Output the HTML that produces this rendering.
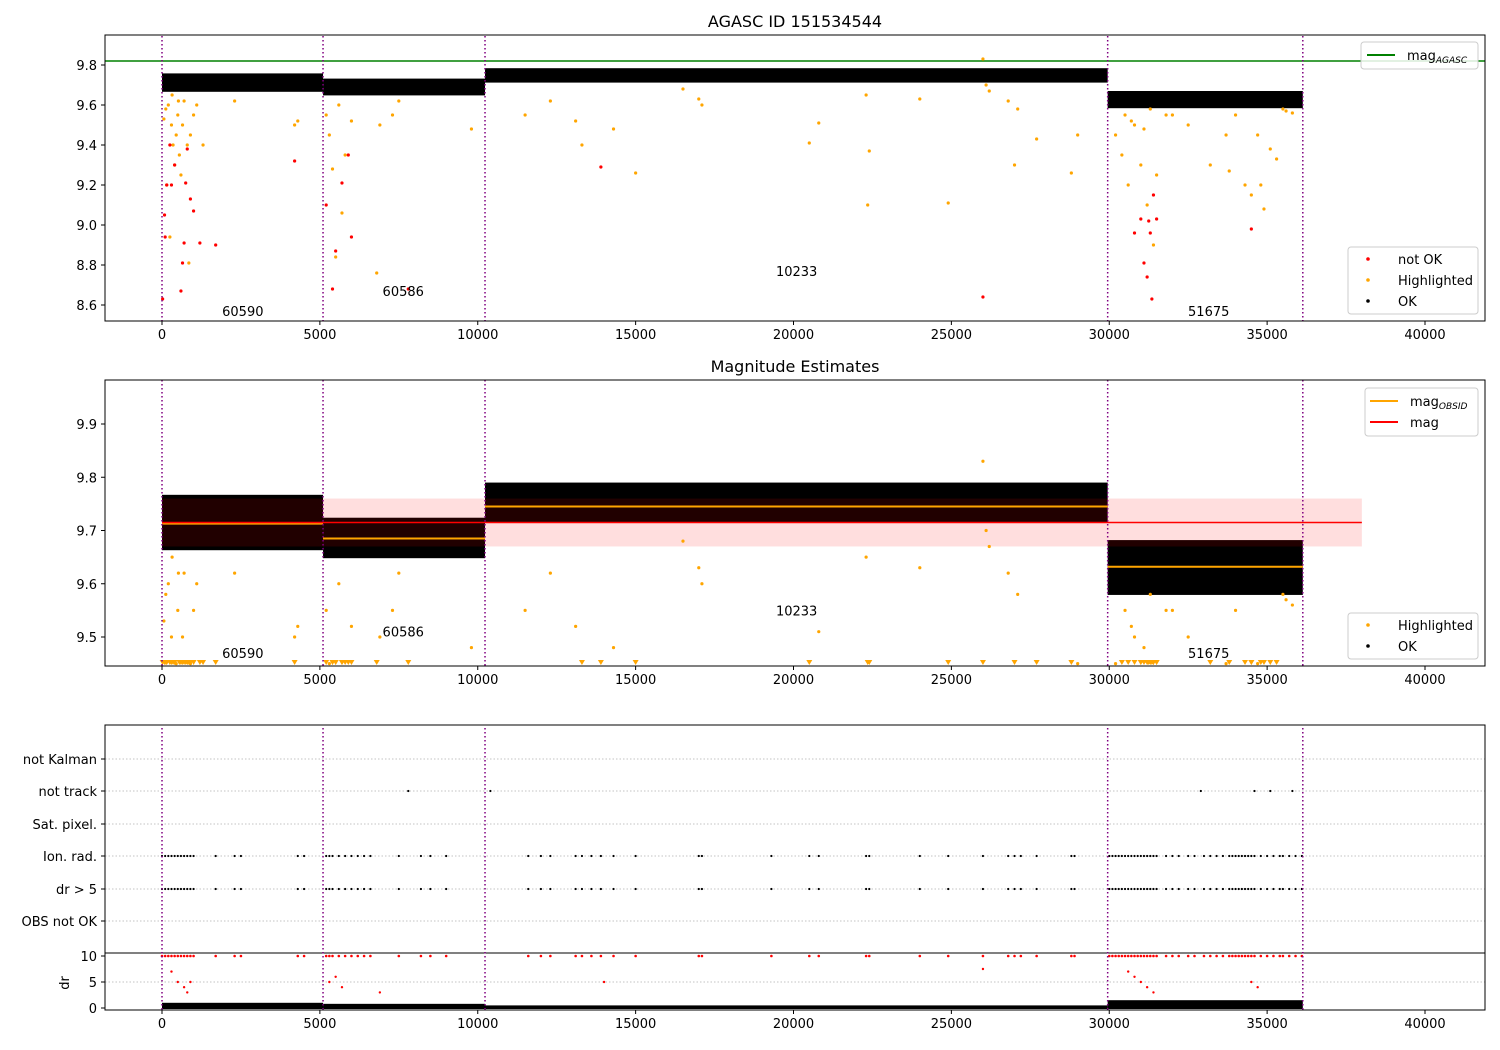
<!DOCTYPE html>
<html><head><meta charset="utf-8"><style>
body{margin:0;background:#fff}
svg{display:block;font-family:"DejaVu Sans","Liberation Sans",sans-serif}
</style></head><body>
<svg id="c" width="1500" height="1050" xmlns="http://www.w3.org/2000/svg">
<defs>
<clipPath id="cp1"><rect x="105" y="35" width="1380" height="286"/></clipPath>
<clipPath id="cp2"><rect x="105" y="380" width="1380" height="286"/></clipPath>
<clipPath id="cp3"><rect x="105" y="725" width="1380" height="285"/></clipPath>
</defs>
<rect width="1500" height="1050" fill="#fff"/>
<g id="g1" clip-path="url(#cp1)"></g>
<g id="g2" clip-path="url(#cp2)"></g>
<g id="g3" clip-path="url(#cp3)"></g>
<g id="ax"></g>
</svg>
<script>
// ---- data ----
const obsids=['60590','60586','10233','51675'];
const obsStart=[0,5100,10230,29950];
const obsEnd=[5100,10230,29950,36130];
const p1Center=[9.712,9.69,9.748,9.627];
const p1Half=[0.046,0.042,0.036,0.043];
const p2Lo=[9.663,9.648,9.716,9.579];
const p2Hi=[9.767,9.724,9.79,9.682];
const obsMean=[9.713,9.685,9.745,9.632];
const drTop=[1.0,0.8,0.5,1.5];
const magAgasc=9.82;
const magOverall=9.715;
const magBand=0.045;
const highlighted=[[200,9.6],[300,9.5],[350,9.4],[400,9.3],[450,9.45],[500,9.55],[550,9.35],[600,9.25],[650,9.5],[700,9.62],[800,9.4],[900,9.45],[1000,9.55],[150,9.2],[250,8.94],[850,8.81],[1300,9.4],[1100,9.6],[120,9.58],[60,9.53],[320,9.65],[520,9.62],[2300,9.62],[4200,9.5],[4300,9.52],[5200,9.55],[5300,9.45],[5400,9.28],[5500,8.84],[5700,9.06],[5800,9.35],[6000,9.52],[5600,9.6],[6800,8.76],[6900,9.5],[7300,9.55],[7500,9.62],[9800,9.48],[11500,9.55],[12300,9.62],[13100,9.52],[13300,9.40],[14300,9.48],[15000,9.26],[16500,9.68],[17000,9.63],[17100,9.6],[20500,9.41],[20800,9.51],[22300,9.65],[22400,9.37],[22350,9.1],[24000,9.63],[24900,9.11],[26100,9.7],[26000,9.83],[26200,9.67],[27000,9.3],[27100,9.58],[26800,9.62],[27700,9.43],[28800,9.26],[29000,9.45],[30200,9.45],[30400,9.35],[30600,9.2],[30800,9.5],[31000,9.3],[31200,9.1],[31400,8.9],[31500,9.25],[30500,9.55],[30700,9.52],[31100,9.48],[31300,9.58],[31800,9.55],[32000,9.55],[32500,9.5],[33200,9.3],[33800,9.27],[34300,9.2],[34500,9.15],[34800,9.2],[34900,9.08],[35100,9.38],[35300,9.33],[34000,9.55],[34700,9.45],[33700,9.45],[35600,9.57],[35800,9.56],[35500,9.58]];
const notOk=[[20,8.63],[80,9.05],[100,8.94],[150,9.2],[250,9.4],[300,9.2],[400,9.3],[600,8.67],[650,8.81],[700,8.91],[750,9.21],[800,9.38],[900,9.13],[1000,9.07],[1200,8.91],[1700,8.9],[4200,9.32],[5200,9.1],[5400,8.68],[5500,8.87],[5700,9.21],[5900,9.35],[6000,8.94],[7800,8.68],[13900,9.29],[26000,8.64],[30800,8.96],[31000,9.03],[31100,8.81],[31200,8.74],[31300,8.96],[31350,8.63],[31400,9.15],[31500,9.03],[31250,9.02],[34500,8.98]];
const flagTimes=[0,100,200,300,400,500,600,700,800,900,1000,1700,2300,2500,4300,4500,5200,5300,5400,5600,5800,6000,6200,6400,6600,7500,8200,8500,9000,11600,12000,12300,13100,13300,13600,13900,14300,15000,17000,17100,19300,20500,20800,22300,22400,24000,24900,26000,26800,27000,27200,27700,28800,28900,30000,30100,30200,30300,30400,30500,30600,30700,30800,30900,31000,31100,31200,31300,31400,31500,31800,32000,32200,32500,32700,33000,33200,33400,33600,33800,33900,34000,34100,34200,34300,34400,34500,34600,34800,35000,35200,35400,35500,35700,35900,36100];
const notTrack=[7800,10400,32900,34600,35100,35800];
const drRed=[[300,7],[500,5],[700,4],[800,3],[900,5],[5300,5],[5500,6],[5700,4],[6900,3],[30600,7],[30800,6],[31000,5],[31200,4],[31400,3],[34500,5],[34700,4],[26000,7.5],[14000,5]];
const catLabels=['not Kalman','not track','Sat. pixel.','Ion. rad.','dr > 5','OBS not OK'];
const catY=[759,791,824,856,889,921];
const xTicks=[0,5000,10000,15000,20000,25000,30000,35000,40000];
const y1Ticks=[9.8,9.6,9.4,9.2,9.0,8.8,8.6];
const y2Ticks=[9.9,9.8,9.7,9.6,9.5];
const drTicks=[10,5,0];
const labP1=[8.57,8.67,8.77,8.57];
const labP2=[9.47,9.51,9.55,9.47];
const labT=[2560,7640,20100,33150];
// ---- scales ----
const X=t=>162+t*1263/40000;
const Y1=m=>65+(9.8-m)*200;
const Y2=m=>424+(9.9-m)*532.5;
const YD=d=>1008-d*5.2;
const NS='http://www.w3.org/2000/svg';
function mk(p,tag,a,txt){const e=document.createElementNS(NS,tag);for(const k in a)e.setAttribute(k,a[k]);if(txt!==undefined)e.textContent=txt;p.appendChild(e);return e;}
const g1=document.getElementById('g1'),g2=document.getElementById('g2'),g3=document.getElementById('g3'),ax=document.getElementById('ax');
// panel 1
let e=mk(g1,'line',{x1:105,x2:1485,y1:Y1(magAgasc),y2:Y1(magAgasc),stroke:'green','stroke-width':1.5});


obsids.forEach((o,i)=>{
 e=mk(g1,'rect',{x:X(obsStart[i]),width:X(obsEnd[i])-X(obsStart[i]),y:Y1(p1Center[i]+p1Half[i]),height:p1Half[i]*2*200,fill:'#000'});
 
 
 e=mk(g2,'rect',{x:X(obsStart[i]),width:X(obsEnd[i])-X(obsStart[i]),y:Y2(p2Hi[i]),height:Y2(p2Lo[i])-Y2(p2Hi[i]),fill:'#000'});
 
 
});
highlighted.forEach(p=>{e=mk(g1,'circle',{cx:X(p[0]),cy:Y1(p[1]),r:1.6,fill:'orange'});
 
 });
notOk.forEach(p=>{e=mk(g1,'circle',{cx:X(p[0]),cy:Y1(p[1]),r:1.6,fill:'red'});
 
 });
// panel 2
e=mk(g2,'rect',{x:X(0),width:X(38000)-X(0),y:Y2(magOverall+magBand),height:Y2(magOverall-magBand)-Y2(magOverall+magBand),fill:'red','fill-opacity':0.13});


obsids.forEach((o,i)=>{
 e=mk(g2,'line',{x1:X(obsStart[i]),x2:X(obsEnd[i]),y1:Y2(obsMean[i]),y2:Y2(obsMean[i]),stroke:'orange','stroke-width':2});
 
 
});
e=mk(g2,'line',{x1:X(0),x2:X(38000),y1:Y2(magOverall),y2:Y2(magOverall),stroke:'red','stroke-width':1.5});


highlighted.concat(notOk).forEach(p=>{
 if(p[1]<9.4455){const x=X(p[0]),y=663;
  e=mk(g2,'path',{d:`M${x-3},${y-3}L${x+3},${y-3}L${x},${y+2}Z`,fill:'orange'});
  
  }
 else{e=mk(g2,'circle',{cx:X(p[0]),cy:Y2(p[1]),r:1.6,fill:'orange'});
  
  }
});
obsids.forEach((o,i)=>{
 e=mk(g1,'text',{x:X(labT[i]),y:Y1(labP1[i])+5,'font-size':13,'text-anchor':'middle'},o);
 
 
 e=mk(g2,'text',{x:X(labT[i]),y:Y2(labP2[i])+5,'font-size':13,'text-anchor':'middle'},o);
 
 
});
// panel 3
catY.forEach(y=>mk(g3,'line',{x1:105,x2:1485,y1:y,y2:y,stroke:'#b0b0b0','stroke-dasharray':'1.5,2','stroke-width':0.8}));
[5].forEach(d=>mk(g3,'line',{x1:105,x2:1485,y1:YD(d),y2:YD(d),stroke:'#b0b0b0','stroke-dasharray':'1.5,2','stroke-width':0.8}));
mk(g3,'line',{x1:105,x2:1485,y1:953,y2:953,stroke:'#000','stroke-width':1});
flagTimes.forEach(t=>{
 [856,889].forEach(y=>{e=mk(g3,'circle',{cx:X(t),cy:y,r:1.1,fill:'#000'});
  
  });
 e=mk(g3,'circle',{cx:X(t),cy:YD(10),r:1.3,fill:'red'});
 
 
});
notTrack.forEach(t=>{e=mk(g3,'circle',{cx:X(t),cy:791,r:1.1,fill:'#000'});
 
 });
obsids.forEach((o,i)=>{
 e=mk(g3,'rect',{x:X(obsStart[i]),width:X(obsEnd[i])-X(obsStart[i]),y:YD(drTop[i]),height:YD(0)-YD(drTop[i])+1,fill:'#000'});
 
 
});
drRed.forEach(p=>{e=mk(g3,'circle',{cx:X(p[0]),cy:YD(p[1]),r:1.2,fill:'red'});
 
 });
// obsid boundaries
[g1,g2,g3].forEach(g=>{obsStart.concat([obsEnd[3]]).forEach(t=>{
 e=mk(g,'line',{x1:X(t),x2:X(t),y1:0,y2:1050,stroke:'purple','stroke-width':1.5,'stroke-dasharray':'1.5,2.5'});
 
 });});
// axes
function frame(y0,h,name){e=mk(ax,'rect',{x:105,y:y0,width:1380,height:h,fill:'none',stroke:'#000','stroke-width':1});
 
 }
frame(35,286,'axes-frame-1');frame(380,286,'axes-frame-2');frame(725,285,'axes-frame-3');
[321,666,1010].forEach(yb=>{xTicks.forEach(t=>{mk(ax,'line',{x1:X(t),x2:X(t),y1:yb,y2:yb+4,stroke:'#000'});
 e=mk(ax,'text',{x:X(t),y:yb+18,'font-size':13,'text-anchor':'middle'},t);
 
 });});
y1Ticks.forEach(v=>{mk(ax,'line',{x1:101,x2:105,y1:Y1(v),y2:Y1(v),stroke:'#000'});
 e=mk(ax,'text',{x:97,y:Y1(v)+5,'font-size':13,'text-anchor':'end'},v.toFixed(1));
 
 });
y2Ticks.forEach(v=>{mk(ax,'line',{x1:101,x2:105,y1:Y2(v),y2:Y2(v),stroke:'#000'});
 e=mk(ax,'text',{x:97,y:Y2(v)+5,'font-size':13,'text-anchor':'end'},v.toFixed(1));
 
 });
catLabels.forEach((c,i)=>{mk(ax,'line',{x1:101,x2:105,y1:catY[i],y2:catY[i],stroke:'#000'});
 e=mk(ax,'text',{x:97,y:catY[i]+5,'font-size':13,'text-anchor':'end'},c);
 
 });
drTicks.forEach(v=>{mk(ax,'line',{x1:101,x2:105,y1:YD(v),y2:YD(v),stroke:'#000'});
 e=mk(ax,'text',{x:97,y:YD(v)+5,'font-size':13,'text-anchor':'end'},v);
 
 });
e=mk(ax,'text',{x:0,y:0,'font-size':13,'text-anchor':'middle',transform:'translate(69,983) rotate(-90)'},'dr');


e=mk(ax,'text',{x:795,y:27,'font-size':16,'text-anchor':'middle'},'AGASC ID 151534544');


e=mk(ax,'text',{x:795,y:372,'font-size':16,'text-anchor':'middle'},'Magnitude Estimates');


// legends
function legBox(x,y,w,h,name){e=mk(ax,'rect',{x:x,y:y,width:w,height:h,rx:3,fill:'#fff','fill-opacity':0.85,stroke:'#ccc'});
 
 }
function legLine(x,y,col,label,sub){mk(ax,'line',{x1:x,x2:x+28,y1:y,y2:y,stroke:col,'stroke-width':2});
 const t=mk(ax,'text',{x:x+40,y:y+5,'font-size':13},label);
 if(sub){mk(t,'tspan',{'font-size':9,dy:3,'font-style':'italic'},sub);}}
function legDot(x,y,col,label){mk(ax,'circle',{cx:x+14,cy:y,r:1.8,fill:col});mk(ax,'text',{x:x+44,y:y+5,'font-size':13},label);}
legBox(1361,42,117,27,'legend-agasc');legLine(1367,55,'green','mag','AGASC');
legBox(1348,247,130,67,'legend-status');legDot(1354,259,'red','not OK');legDot(1354,280,'orange','Highlighted');legDot(1354,301,'#000','OK');
legBox(1365,388,113,48,'legend-mag');legLine(1370,401,'orange','mag','OBSID');legLine(1370,422,'red','mag');
legBox(1348,613,130,46,'legend-points');legDot(1354,625,'orange','Highlighted');legDot(1354,646,'#000','OK');
</script>
</body></html>
